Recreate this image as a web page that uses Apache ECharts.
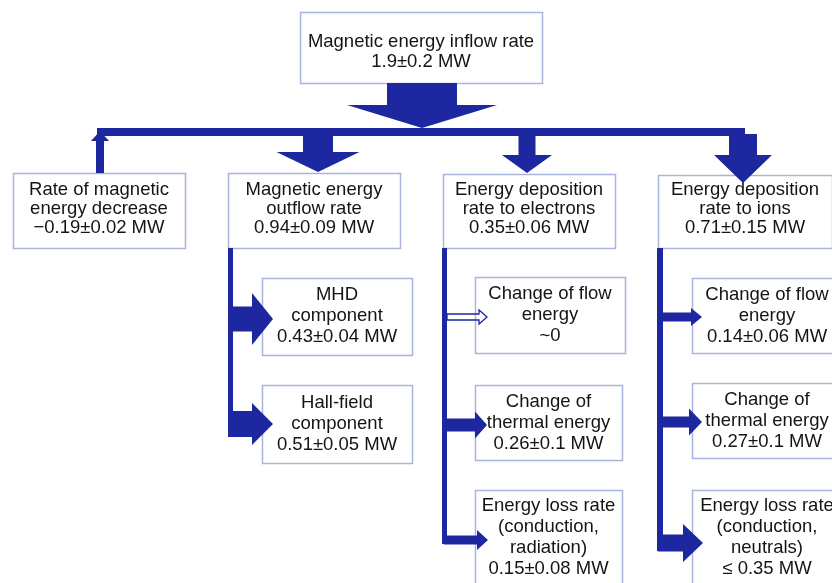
<!DOCTYPE html>
<html>
<head>
<meta charset="utf-8">
<script src="https://cdn.jsdelivr.net/npm/echarts@6/dist/echarts.min.js"></script>
<style>html,body{margin:0;padding:0;background:#fff}#c{width:832px;height:583px}</style>
</head>
<body>
<div id="c"></div>
<script>
// ---- data: box titles and their values ----
const nodeLabels = [
  'Magnetic energy inflow rate',
  'Rate of magnetic\nenergy decrease',
  'Magnetic energy\noutflow rate',
  'Energy deposition\nrate to electrons',
  'Energy deposition\nrate to ions',
  'MHD\ncomponent',
  'Hall-field\ncomponent',
  'Change of flow\nenergy',
  'Change of\nthermal energy',
  'Energy loss rate\n(conduction,\nradiation)',
  'Change of flow\nenergy',
  'Change of\nthermal energy',
  'Energy loss rate\n(conduction,\nneutrals)'
];
const nodeValues = [
  '1.9±0.2 MW', '−0.19±0.02 MW', '0.94±0.09 MW', '0.35±0.06 MW', '0.71±0.15 MW',
  '0.43±0.04 MW', '0.51±0.05 MW', '~0', '0.26±0.1 MW', '0.15±0.08 MW',
  '0.14±0.06 MW', '0.27±0.1 MW', '≤ 0.35 MW'
];

// ---- layout (diagram coordinates, y downward) ----
const boxRects = [
  [300, 12, 542, 83],
  [13, 173, 185, 248], [228, 173, 400, 248], [443, 174, 615, 248], [658, 175, 832, 248],
  [262, 278, 412, 355], [262, 385, 412, 463],
  [475, 277, 625, 353], [475, 385, 622, 460], [475, 490, 622, 600],
  [692, 278, 842, 353], [692, 383, 842, 458], [692, 490, 842, 600]
];
const textCenterY = [52, 209, 209, 209, 209, 316, 424, 315, 423, 537, 316, 421, 537];
const lineHeights = [20, 19, 19, 19, 19, 21, 21, 21, 21, 21, 21, 21, 21];
const connectorRects = [
  [97, 128, 745, 136],   // horizontal distribution bar
  [228, 248, 233, 437],  // outflow column
  [442, 248, 447, 544],  // electrons column
  [657, 248, 663, 551]   // ions column
];
// arrows: from, to, stem width, head width, head length, hollow
const arrowSpecs = [
  [[422, 83], [422, 128], 70, 150, 23, false],
  [[100, 173], [100, 131], 8, 18, 10, false],
  [[318, 134], [318, 172], 30, 83, 20, false],
  [[527, 134], [527, 173], 17, 50, 18, false],
  [[743, 134], [743, 183], 28, 58, 28, false],
  [[230, 319], [273, 319], 25, 52, 21, false],
  [[230, 424], [273, 424], 26, 42, 21, false],
  [[447, 317], [487, 317], 6, 14, 8, true],
  [[444, 425], [487, 425], 13, 27, 12, false],
  [[444, 540], [488, 540], 9, 20, 11, false],
  [[660, 317], [702, 317], 9, 18, 11, false],
  [[660, 422], [702, 422], 11, 27, 13, false],
  [[658, 543], [703, 543], 17, 38, 20, false]
];

const ARROW = '#1d27a0';
const BORDER = '#aab3dc';
const FONT = '18.5px "Liberation Sans", Arial, Helvetica, sans-serif';

function arrowPoints(api, s) {
  const [f, t, sw, hw, hl] = s;
  const dx = t[0] - f[0], dy = t[1] - f[1];
  const L = Math.hypot(dx, dy);
  const ux = dx / L, uy = dy / L, nx = -uy, ny = ux;
  const bx = t[0] - ux * hl, by = t[1] - uy * hl;
  const raw = [
    [f[0] + nx * sw / 2, f[1] + ny * sw / 2],
    [bx + nx * sw / 2, by + ny * sw / 2],
    [bx + nx * hw / 2, by + ny * hw / 2],
    [t[0], t[1]],
    [bx - nx * hw / 2, by - ny * hw / 2],
    [bx - nx * sw / 2, by - ny * sw / 2],
    [f[0] - nx * sw / 2, f[1] - ny * sw / 2]
  ];
  return raw.map(p => api.coord(p));
}

const chart = echarts.init(document.getElementById('c'), null, {renderer: 'canvas'});
chart.setOption({
  animation: false,
  backgroundColor: '#ffffff',
  grid: {left: 0, right: 0, top: 0, bottom: 0},
  xAxis: {type: 'value', min: 0, max: 832, show: false},
  yAxis: {type: 'value', min: 0, max: 583, inverse: true, show: false},
  series: [
    {
      type: 'custom',
      coordinateSystem: 'cartesian2d',
      z: 1,
      data: nodeLabels.map((n, i) => [i]),
      renderItem: function (params, api) {
        const i = api.value(0);
        const r = boxRects[i];
        const p0 = api.coord([r[0], r[1]]);
        const p1 = api.coord([r[2], r[3]]);
        const cx = (p0[0] + p1[0]) / 2;
        const cy = api.coord([0, textCenterY[i]])[1];
        return {
          type: 'group',
          children: [
            {type: 'rect', shape: {x: p0[0] + 0.5, y: p0[1] + 0.5, width: p1[0] - p0[0], height: p1[1] - p0[1]},
             style: {fill: '#ffffff', stroke: BORDER, lineWidth: 1.5}},
            {type: 'text', x: cx, y: cy,
             style: {text: nodeLabels[i] + '\n' + nodeValues[i], align: 'center', verticalAlign: 'middle',
                     font: FONT, fill: '#141414', lineHeight: lineHeights[i]}}
          ]
        };
      }
    },
    {
      type: 'custom',
      coordinateSystem: 'cartesian2d',
      z: 2,
      data: connectorRects.map((r, i) => [i]),
      renderItem: function (params, api) {
        const r = connectorRects[api.value(0)];
        const p0 = api.coord([r[0], r[1]]);
        const p1 = api.coord([r[2], r[3]]);
        return {type: 'rect', shape: {x: p0[0], y: p0[1], width: p1[0] - p0[0], height: p1[1] - p0[1]},
                style: {fill: ARROW}};
      }
    },
    {
      type: 'custom',
      coordinateSystem: 'cartesian2d',
      z: 3,
      data: arrowSpecs.map((a, i) => [i]),
      renderItem: function (params, api) {
        const s = arrowSpecs[api.value(0)];
        const pts = arrowPoints(api, s);
        const hollow = s[5];
        return {type: 'polygon', shape: {points: pts},
                style: hollow ? {fill: 'none', stroke: ARROW, lineWidth: 1.3} : {fill: ARROW}};
      }
    }
  ]
});
</script>
</body>
</html>
